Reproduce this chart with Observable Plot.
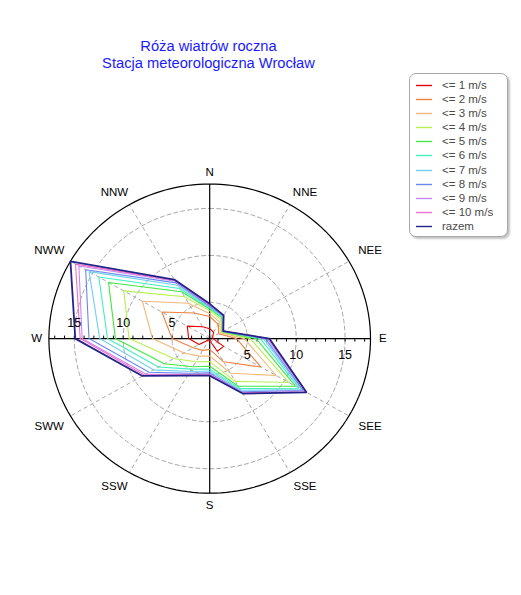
<!DOCTYPE html>
<html>
<head>
<meta charset="utf-8">
<script src="https://cdn.jsdelivr.net/npm/d3@7"></script>
<script src="https://cdn.jsdelivr.net/npm/@observablehq/plot@0.6"></script>
<style>
  body { margin: 0; background: #fff; }
  #wrap { position: relative; width: 521px; height: 595px; overflow: hidden; background: #fff;
          font-family: "Liberation Sans", Arial, sans-serif; }
  #chart { position: absolute; left: 0; top: 0; }
  .title { position: absolute; left: 0; width: 417px; text-align: center; color: #1a1aff;
           font-size: 14.7px; line-height: 17px; white-space: nowrap; }
  #legend { position: absolute; left: 409px; top: 73px; width: 97px; height: 162px;
            border: 1px solid #a8a8a8; border-radius: 7px; background: #fff;
            box-shadow: 2px 2px 2px #c4c4c4; }
  .item { position: absolute; left: 0; height: 14px; width: 97px; }
  .item svg { position: absolute; left: 6px; top: 6px; }
  .item span { position: absolute; left: 32px; top: 0; font-size: 11.5px; line-height: 14px; color: #4a4a4a; white-space: nowrap; }
</style>
</head>
<body>
<div id="wrap">
  <div id="chart"></div>
  <div class="title" id="t1" style="top:38px"></div>
  <div class="title" id="t2" style="top:55px"></div>
  <div id="legend"></div>
</div>
<script>
// ---- data ----
const titleLines = ["Róża wiatrów roczna", "Stacja meteorologiczna Wrocław"];
const directions = ["N", "NNE", "NEE", "E", "SEE", "SSE", "S", "SSW", "SWW", "W", "NWW", "NNW"];
const speedClasses = ["<= 1 m/s", "<= 2 m/s", "<= 3 m/s", "<= 4 m/s", "<= 5 m/s", "<= 6 m/s",
                      "<= 7 m/s", "<= 8 m/s", "<= 9 m/s", "<= 10 m/s", "razem"];
const classColors = ["#e80000", "#f08040", "#f0b878", "#b8f050", "#40e840", "#40f0c0",
                     "#70d0f0", "#6888f0", "#c888f0", "#f070d0", "#242488"];
// cumulative frequency [%] per direction (order as in directions)
const le1   = [2.2, 1.95, 1.5, 1.5, 2.8, 2.7, 1.35, 1.3, 2.4, 3.3, 3.8, 2.6];
const le2   = [3.5, 2.9, 2.2, 3.9, 7.2, 4.0, 2.3, 2.6, 3.1, 5.0, 6.8, 4.3];
const le3   = [3.8, 3.2, 2.4, 4.7, 9.0, 5.4, 3.0, 3.3, 4.2, 7.0, 9.1, 5.5];
const le4   = [4.1, 3.5, 2.55, 5.3, 10.5, 6.4, 3.6, 4.0, 5.4, 9.4, 11.3, 6.3];
const le5   = [4.3, 3.7, 2.62, 5.9, 11.3, 7.0, 4.1, 4.6, 6.5, 10.8, 13.1, 6.9];
const le6   = [4.4, 3.8, 2.67, 6.35, 11.7, 7.3, 4.4, 4.9, 7.2, 11.6, 14.25, 7.3];
const le7   = [4.5, 3.9, 2.7, 6.65, 12.0, 7.5, 4.6, 5.2, 7.8, 12.4, 15.4, 7.7];
const le8   = [4.6, 3.95, 2.72, 6.85, 12.2, 7.7, 4.8, 5.4, 8.3, 13.5, 15.8, 8.0];
const le9   = [4.7, 3.97, 2.73, 7.05, 12.4, 7.8, 4.95, 5.55, 8.7, 14.2, 16.6, 8.2];
const le10  = [4.8, 3.99, 2.74, 7.2, 12.5, 7.85, 5.0, 5.6, 8.9, 14.4, 17.0, 8.3];
const razem = [4.85, 4.0, 2.75, 7.25, 12.6, 7.9, 5.1, 5.7, 9.1, 14.9, 17.6, 8.4];
const ringValues = [5, 10, 15];
const axisLabels = [5, 10, 15];
const radialMin = 1.15;   // value at the centre of the rose
const radialMax = 17.6;   // value at the outer circle

// ---- build ----
const series = [le1, le2, le3, le4, le5, le6, le7, le8, le9, le10, razem];
const R = radialMax - radialMin;
const step = 360 / directions.length;
const polar = (v, deg) => {
  const r = v - radialMin, a = deg * Math.PI / 180;
  return {x: r * Math.sin(a), y: r * Math.cos(a)};
};

const polyData = [];
series.forEach((vals, k) => {
  [...vals, vals[0]].forEach((v, i) => {
    polyData.push({cls: speedClasses[k], ...polar(v, (i % vals.length) * step)});
  });
});
const inner = polyData.filter(d => d.cls !== "razem");
const outer = polyData.filter(d => d.cls === "razem");

const circlePts = (v) => d3.range(0, 361, 2).map(a => ({ring: v, ...polar(v, a)}));
const ringPts = ringValues.flatMap(circlePts);
const outerPts = circlePts(radialMax);

const spokes = directions.map((d, i) => ({i, ...polar(radialMax, i * step)})).filter(d => d.i % 3 !== 0);
const tickVals = d3.range(2, 18);

// label offsets beyond the outer circle (text box pushed outward)
const dirLabels = directions.map((d, i) => {
  const a = i * step * Math.PI / 180;
  let rx, ry;
  if (i % 3 === 0) { rx = 17.7; ry = 17.7; }
  else if (Math.abs(Math.cos(a)) > 0.8) { rx = 19.5; ry = Math.cos(a) > 0 ? 17.95 : 18.15; }
  else { rx = 18.95; ry = 18.7; }
  return {name: d, x: rx * Math.sin(a), y: ry * Math.cos(a)};
});

const plot = Plot.plot({
  width: 521,
  height: 595,
  margin: 0,
  x: {type: "linear", domain: [-R, R], range: [48.4, 370.0], axis: null},
  y: {type: "linear", domain: [-R, R], range: [492.7, 183.5], axis: null},
  color: {domain: speedClasses, range: classColors},
  style: {background: "transparent", fontFamily: "Liberation Sans, Arial, sans-serif", fontSize: "11.5px", color: "#000"},
  marks: [
    Plot.line(ringPts, {x: "x", y: "y", z: "ring", stroke: "#a8a8a8", strokeWidth: 1, strokeDasharray: "4,3"}),
    Plot.link(spokes, {x1: () => 0, y1: () => 0, x2: "x", y2: "y", stroke: "#a8a8a8", strokeWidth: 1, strokeDasharray: "4,3"}),
    Plot.link([{x1: -R, y1: 0, x2: R, y2: 0}, {x1: 0, y1: -R, x2: 0, y2: R}],
      {x1: "x1", y1: "y1", x2: "x2", y2: "y2", stroke: "#000", strokeWidth: 1.2}),
    Plot.link(tickVals, {x1: v => -(v - radialMin), x2: v => -(v - radialMin), y1: () => 0, y2: () => 0.32, stroke: "#000", strokeWidth: 1}),
    Plot.link(tickVals, {x1: v => v - radialMin, x2: v => v - radialMin, y1: () => 0, y2: () => -0.32, stroke: "#000", strokeWidth: 1}),
    Plot.line(outerPts, {x: "x", y: "y", stroke: "#000", strokeWidth: 1.2}),
    Plot.line(inner, {x: "x", y: "y", z: "cls", stroke: "cls", strokeWidth: 1.1, strokeLinejoin: "miter"}),
    Plot.line(outer, {x: "x", y: "y", z: "cls", stroke: "cls", strokeWidth: 1.8, strokeLinejoin: "miter"}),
    Plot.text(axisLabels, {x: v => -(v - radialMin), y: () => 0, dy: -16, text: v => String(v), fill: "#000", fontSize: 12.5}),
    Plot.text(axisLabels, {x: v => v - radialMin, y: () => 0, dy: 16, text: v => String(v), fill: "#000", fontSize: 12.5}),
    Plot.text(dirLabels, {x: "x", y: "y", text: "name", fill: "#000", fontSize: 11.5})
  ]
});
document.getElementById("chart").appendChild(plot);

document.getElementById("t1").textContent = titleLines[0];
document.getElementById("t2").textContent = titleLines[1];

const legend = document.getElementById("legend");
speedClasses.forEach((c, i) => {
  const row = document.createElement("div");
  row.className = "item";
  row.style.top = (3.5 + i * 14.17) + "px";
  row.innerHTML = `<svg width="18" height="3"><line x1="0" y1="1.5" x2="16" y2="1.5" stroke="${classColors[i]}" stroke-width="1.4"/></svg><span></span>`;
  row.querySelector("span").textContent = c;
  legend.appendChild(row);
});
</script>
</body>
</html>
